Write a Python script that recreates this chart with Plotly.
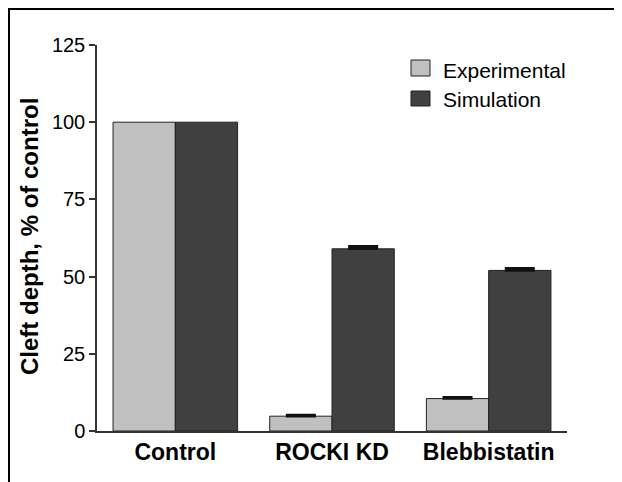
import plotly.graph_objects as go

categories = ["Control", "ROCKI KD", "Blebbistatin"]
experimental = [100, 4.8, 10.5]
experimental_err = [0, 0.4, 0.4]
simulation = [100, 59.0, 52.0]
simulation_err = [0, 0.8, 0.7]
y_ticks = [0, 25, 50, 75, 100, 125]
series_names = ["Experimental", "Simulation"]

FONT = "Liberation Sans, Arial, Helvetica, sans-serif"
EXP_COLOR = "#c0c0c0"
SIM_COLOR = "#404040"

# the page body adds an 8px margin; the figure is laid out so that
# its content lands where the reference has it in the 622x482 window
OFF = 8
W, H = 622 - OFF, 482 - OFF
L, R, T, B = 97 - OFF, 55, 45 - OFF, 51
PW, PH = W - L - R, H - T - B


def px(x):
    return (x - OFF - L) / PW


def py(y):
    return (H - B - (y - OFF)) / PH


fig = go.Figure()
for name, vals, errs, color in [
    (series_names[0], experimental, experimental_err, EXP_COLOR),
    (series_names[1], simulation, simulation_err, SIM_COLOR),
]:
    fig.add_trace(go.Bar(
        x=categories, y=vals, name=name, offsetgroup=name,
        marker=dict(color=color, line=dict(color="#222222", width=1)),
        showlegend=False,
    ))
    # error bars only where an error is reported (not for the Control reference)
    idx = [i for i, e in enumerate(errs) if e > 0]
    fig.add_trace(go.Bar(
        x=[categories[i] for i in idx], y=[vals[i] for i in idx],
        name=name + " error", offsetgroup=name,
        marker=dict(color="rgba(0,0,0,0)", line=dict(width=0)),
        error_y=dict(type="data", array=[errs[i] for i in idx],
                     arrayminus=[0] * len(idx), symmetric=False,
                     color="#111111", thickness=2.5, width=15),
        showlegend=False, hoverinfo="skip",
    ))

shapes = [
    # outer frame (left and top visible)
    dict(type="rect", xref="paper", yref="paper",
         x0=px(9), x1=px(800), y0=py(700), y1=py(9),
         line=dict(color="black", width=2), fillcolor="rgba(0,0,0,0)", layer="below"),
    # legend boxes
    dict(type="rect", xref="paper", yref="paper",
         x0=px(411), x1=px(430), y0=py(76), y1=py(60),
         line=dict(color="#222222", width=1), fillcolor=EXP_COLOR),
    dict(type="rect", xref="paper", yref="paper",
         x0=px(411), x1=px(430), y0=py(106), y1=py(91),
         line=dict(color="#222222", width=1), fillcolor=SIM_COLOR),
]

annotations = [
    dict(text=series_names[0], xref="paper", yref="paper", x=px(441), y=py(70),
         xanchor="left", yanchor="middle", showarrow=False,
         font=dict(family=FONT, size=21, color="black")),
    dict(text=series_names[1], xref="paper", yref="paper", x=px(441), y=py(100),
         xanchor="left", yanchor="middle", showarrow=False,
         font=dict(family=FONT, size=21, color="black")),
    dict(text="<b>Cleft depth, % of control</b>", xref="paper", yref="paper",
         x=px(29), y=py(237), xanchor="center", yanchor="middle", textangle=-90,
         showarrow=False, font=dict(family=FONT, size=24, color="black")),
]

fig.update_layout(
    width=W, height=H,
    margin=dict(l=L, r=R, t=T, b=B, pad=0),
    paper_bgcolor="white", plot_bgcolor="white",
    barmode="group", bargap=0.205, bargroupgap=0,
    shapes=shapes, annotations=annotations,
    showlegend=False,
    font=dict(family=FONT, color="black"),
)
fig.update_xaxes(
    showline=True, linecolor="#333333", linewidth=1.5,
    ticks="", showgrid=False, zeroline=False,
    tickfont=dict(family=FONT, size=23, color="black"),
    ticktext=["<b>%s</b>" % c for c in categories], tickvals=categories,
    range=[-0.5, 2.5],
)
fig.update_yaxes(
    range=[0, 125], tickvals=y_ticks, ticktext=[str(v) for v in y_ticks],
    showline=True, linecolor="#333333", linewidth=1.5,
    ticks="outside", ticklen=6, tickwidth=1.5, tickcolor="#333333",
    showgrid=False, zeroline=False,
    tickfont=dict(family=FONT, size=20, color="black"),
)

fig.write_html("out.html")
